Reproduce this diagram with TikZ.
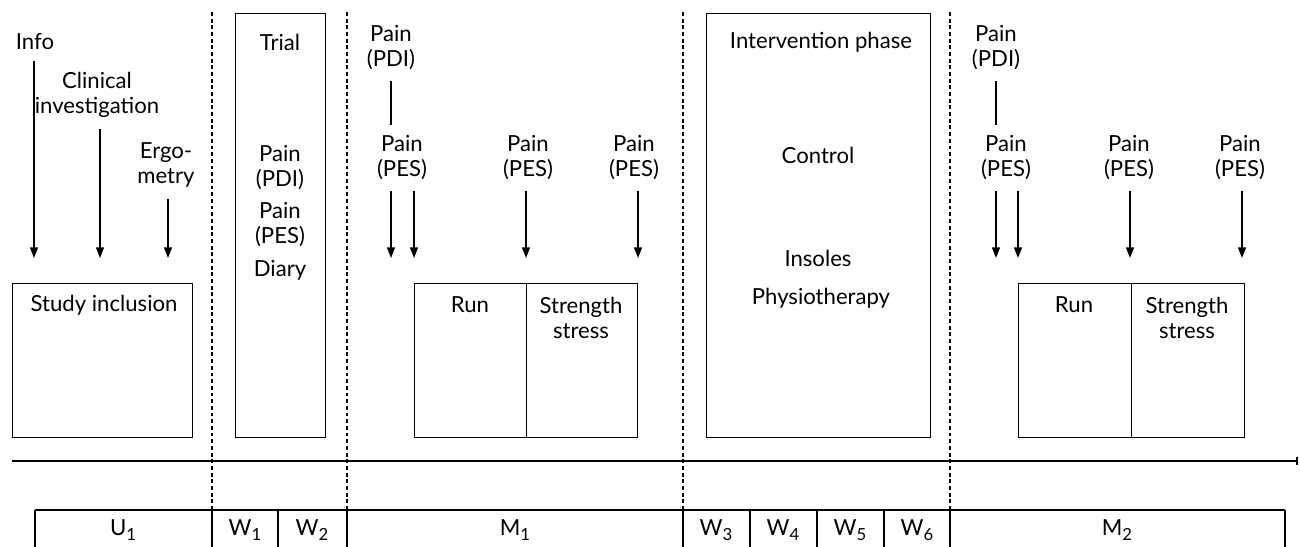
\documentclass[tikz,border=0pt]{standalone}
\usepackage{fontspec}
\setmainfont{Lato}
\usetikzlibrary{arrows.meta}
\newcommand{\lowidx}[1]{\raisebox{-0.45ex}{\fontsize{9.5}{9.5}\selectfont #1}}
\begin{document}
\begin{tikzpicture}[x=0.02cm,y=-0.02cm,
  line width=0.75pt,
  txt/.style={inner sep=1pt, align=center, font=\fontsize{12.6}{14.2}\selectfont},
  boxx/.style={draw, inner sep=0pt, anchor=north west},
  arr/.style={-{Triangle[length=6pt,width=4.5pt]}, shorten <=5pt},
  pline/.style={shorten <=5pt, shorten >=5pt},
  sep/.style={dash pattern=on 2.2pt off 1.6pt, line width=0.6pt}
]
\useasboundingbox (0,0) rectangle (1300,547);

% ---------- boxes ----------
\node[boxx, minimum width=3.6cm, minimum height=3.08cm] (incl) at (12,283) {};
\node[boxx, minimum width=1.8cm, minimum height=8.48cm] (trial) at (235,13) {};
\node[boxx, minimum width=2.24cm, minimum height=3.08cm] (run1) at (414,283) {};
\node[boxx, minimum width=2.22cm, minimum height=3.08cm] (str1) at (526,283) {};
\node[boxx, minimum width=4.48cm, minimum height=8.48cm] (interv) at (706,13) {};
\node[boxx, minimum width=2.26cm, minimum height=3.08cm] (run2) at (1018,283) {};
\node[boxx, minimum width=2.26cm, minimum height=3.08cm] (str2) at (1131,283) {};

% ---------- texts in boxes ----------
\node[txt] (tIncl) at (104,305) {Study inclusion};
\node[txt] (tTrial) at (280,42) {Trial};
\node[txt] (tTpdi) at (280,168) {Pain\\(PDI)};
\node[txt] (tTpes) at (280,225) {Pain\\(PES)};
\node[txt] (tDiary) at (280,270) {Diary};
\node[txt] (tRun1) at (470,305) {Run};
\node[txt] (tStr1) at (581,318) {Strength\\stress};
\node[txt] (tIph) at (821,42) {Intervention phase};
\node[txt] (tCtrl) at (818,155) {Control};
\node[txt] (tIns) at (818,258) {Insoles};
\node[txt] (tPhys) at (821,298) {Physiotherapy};
\node[txt] (tRun2) at (1074,305) {Run};
\node[txt] (tStr2) at (1187,318) {Strength\\stress};

% ---------- labels above ----------
\node[txt] (info) at (35,42) {Info};
\node[txt] (clin) at (97,95) {Clinical\\investigation};
\node[txt] (ergo) at (166,165) {Ergo-\\metry};

\node[txt] (pdiA) at (391,48) {Pain\\(PDI)};
\node[txt] (pesA) at (402,158) {Pain\\(PES)};
\node[txt] (pesB) at (528,158) {Pain\\(PES)};
\node[txt] (pesC) at (634,158) {Pain\\(PES)};

\node[txt] (pdiB) at (996,48) {Pain\\(PDI)};
\node[txt] (pesD) at (1006,158) {Pain\\(PES)};
\node[txt] (pesE) at (1129,158) {Pain\\(PES)};
\node[txt] (pesF) at (1240,158) {Pain\\(PES)};

% ---------- arrow end points ----------
\coordinate (a1) at (34,258);
\coordinate (a2) at (100,258);
\coordinate (a3) at (168,258);
\coordinate (a4) at (391,258);
\coordinate (a5) at (414,258);
\coordinate (a6) at (526,258);
\coordinate (a7) at (638,258);
\coordinate (a8) at (996,258);
\coordinate (a9) at (1018,258);
\coordinate (a10) at (1130,258);
\coordinate (a11) at (1242,258);
\coordinate (la) at (391,0);
\coordinate (lb) at (996,0);

\draw[arr] (a1 |- info.south) -- (a1);
\draw[arr] (a2 |- clin.south) -- (a2);
\draw[arr] (a3 |- ergo.south) -- (a3);
\draw[pline] (la |- pdiA.south) -- (la |- pesA.north);
\draw[arr] (a4 |- pesA.south) -- (a4);
\draw[arr] (a5 |- pesA.south) -- (a5);
\draw[arr] (a6 |- pesB.south) -- (a6);
\draw[arr] (a7 |- pesC.south) -- (a7);
\draw[pline] (lb |- pdiB.south) -- (lb |- pesD.north);
\draw[arr] (a8 |- pesD.south) -- (a8);
\draw[arr] (a9 |- pesD.south) -- (a9);
\draw[arr] (a10 |- pesE.south) -- (a10);
\draw[arr] (a11 |- pesF.south) -- (a11);

% ---------- separators ----------
\foreach \x/\n in {212/s1,347/s2,683/s3,950/s4}{
  \coordinate (\n t) at (\x,12);
  \coordinate (\n b) at (\x,510);
  \draw[sep] (\n t) -- (\n b);
}

% ---------- timeline ----------
\coordinate (tl0) at (12,461);
\coordinate (tl1) at (1297,461);
\draw (tl0) -- (tl1);
\draw ([yshift=2.5pt]tl1) -- ([yshift=-2.5pt]tl1);

% ---------- bottom phase bar ----------
\coordinate (bl) at (35,510);
\coordinate (br) at (1285,510);
\draw (bl) -- (br);
\foreach \x in {35,212,278,347,683,750,817,884,950,1285}{
  \draw (\x,510) -- (\x,547);
}
\node[txt] (U1) at (123,530) {U\lowidx{1}};
\node[txt] (W1) at (245,530) {W\lowidx{1}};
\node[txt] (W2) at (312,530) {W\lowidx{2}};
\node[txt] (M1) at (515,530) {M\lowidx{1}};
\node[txt] (W3) at (716,530) {W\lowidx{3}};
\node[txt] (W4) at (783,530) {W\lowidx{4}};
\node[txt] (W5) at (850,530) {W\lowidx{5}};
\node[txt] (W6) at (917,530) {W\lowidx{6}};
\node[txt] (M2) at (1117,530) {M\lowidx{2}};
\end{tikzpicture}
\end{document}
